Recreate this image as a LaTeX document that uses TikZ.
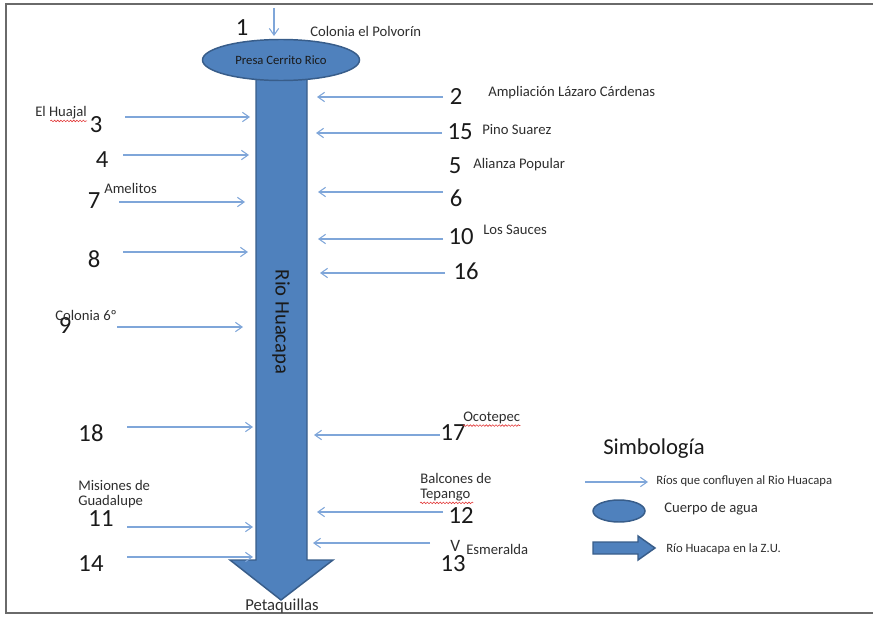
\documentclass[tikz,border=0pt]{standalone}
\usepackage{fontspec}
\setmainfont{Carlito}
\usetikzlibrary{arrows.meta,positioning,shapes.geometric,decorations.pathmorphing}
\definecolor{riverblue}{HTML}{4F81BD}
\definecolor{riveredge}{HTML}{385D8A}
\definecolor{tribblue}{HTML}{7FA6D9}
\definecolor{numink}{HTML}{1A1A1A}
\definecolor{labelink}{HTML}{2E2E2E}
\definecolor{frameink}{HTML}{6A6A6A}
\definecolor{spellred}{HTML}{E23B3B}
\tikzset{
  num/.style={font=\fontsize{18.5}{20}\selectfont,text=numink,inner sep=0pt},
  place/.style={font=\fontsize{11}{13}\selectfont,text=labelink,anchor=west,
                inner sep=0pt,align=left},
  keytext/.style={font=\fontsize{9.5}{11}\selectfont,text=labelink,anchor=west,inner sep=0pt},
  trib/.style={draw=tribblue,line width=0.8pt,-{Straight Barb[length=5pt,width=7pt]}},
  waterbody/.style={ellipse,draw=riveredge,fill=riverblue,line width=1.1pt,inner sep=0pt},
  riverbody/.style={draw=riveredge,fill=riverblue,line width=1.1pt,line join=miter},
  spell/.style={draw=spellred,line width=0.45pt,decorate,
                decoration={snake,amplitude=0.6pt,segment length=2.4pt}}
}

\begin{document}
\begin{tikzpicture}[x=0.75pt,y=-0.75pt]
  \useasboundingbox (0,0) rectangle (873,617);
  % frame
  \draw[frameink,line width=1.2pt] (873,4) -- (6,4) -- (6,613) -- (873,613);

  % main river and dam
  \draw[riverbody] (256,70) -- (307,70) -- (307,560) -- (333,560) -- (281,600)
    -- (230,560) -- (256,560) -- cycle;
  \node[waterbody,minimum width=117.75pt,minimum height=30.75pt] (presa) at (281,60) {};
  \node[font=\fontsize{9.5}{11}\selectfont,text=numink] (presalbl) at (presa.center) {Presa Cerrito Rico};
  \node[font=\fontsize{15.5}{18}\selectfont,text=numink,rotate=-90] (rio) at (281,322) {Rio Huacapa};
  \node[place,anchor=center,font=\fontsize{12.5}{14}\selectfont] (petaq) at (282,606) {Petaquillas};

  % inflow from the north
  \coordinate (src1) at (274,8); \coordinate (dst1) at (274,36);
  \draw[trib] (src1) -- (dst1);
  \node[num] (n1) at (242,28) {1};
  \node[place] (polvorin) at (310,31) {Colonia el Polvorín};

  % west bank
  \coordinate (src3) at (125,117); \coordinate (dst3) at (250,117);
  \draw[trib] (src3) -- (dst3);
  \node[num] (n3) at (96,125) {3};
  \node[place] (huajal) at (35,113) {El Huajal};
  \coordinate (src4) at (123,155); \coordinate (dst4) at (249,155);
  \draw[trib] (src4) -- (dst4);
  \node[num] (n4) at (102,160) {4};
  \coordinate (src7) at (119,202); \coordinate (dst7) at (245,202);
  \draw[trib] (src7) -- (dst7);
  \node[num] (n7) at (94,201) {7};
  \node[place] (amelitos) at (104,188) {Amelitos};
  \coordinate (src8) at (123,252); \coordinate (dst8) at (248,252);
  \draw[trib] (src8) -- (dst8);
  \node[num] (n8) at (94,259) {8};
  \coordinate (src9) at (117,327); \coordinate (dst9) at (243,327);
  \draw[trib] (src9) -- (dst9);
  \node[num] (n9) at (65,325) {9};
  \node[place] (col6) at (55,315) {Colonia 6º};
  \coordinate (src18) at (127,427); \coordinate (dst18) at (253,427);
  \draw[trib] (src18) -- (dst18);
  \node[num] (n18) at (91,433) {18};
  \coordinate (src11) at (127,527); \coordinate (dst11) at (253,527);
  \draw[trib] (src11) -- (dst11);
  \node[num] (n11) at (101,519) {11};
  \node[place,anchor=north west] (misiones) at (78,480) {Misiones de\\[-1.5pt]Guadalupe};
  \coordinate (src14) at (127,557); \coordinate (dst14) at (253,557);
  \draw[trib] (src14) -- (dst14);
  \node[num] (n14) at (91,564) {14};

  % east bank
  \coordinate (src2) at (443,97); \coordinate (dst2) at (317,97);
  \draw[trib] (src2) -- (dst2);
  \node[num] (n2) at (456,96) {2};
  \node[place] (ampliacion) at (488,93) {Ampliación Lázaro Cárdenas};
  \coordinate (src15) at (442,133); \coordinate (dst15) at (316,133);
  \draw[trib] (src15) -- (dst15);
  \node[num] (n15) at (460,132) {15};
  \node[place] (pino) at (482,130) {Pino Suarez};
  \node[num] (n5) at (455,166) {5};
  \node[place] (alianza) at (473,165) {Alianza Popular};
  \coordinate (src6) at (443,192); \coordinate (dst6) at (318,192);
  \draw[trib] (src6) -- (dst6);
  \node[num] (n6) at (456,198) {6};
  \coordinate (src10) at (443,239); \coordinate (dst10) at (318,239);
  \draw[trib] (src10) -- (dst10);
  \node[num] (n10) at (461,237) {10};
  \node[place] (sauces) at (483,230) {Los Sauces};
  \coordinate (src16) at (445,273); \coordinate (dst16) at (320,273);
  \draw[trib] (src16) -- (dst16);
  \node[num] (n16) at (466,271) {16};
  \coordinate (src17) at (440,435); \coordinate (dst17) at (314,435);
  \draw[trib] (src17) -- (dst17);
  \node[num] (n17) at (453,433) {17};
  \node[place] (ocotepec) at (463,418) {Ocotepec};
  \coordinate (src12) at (443,512); \coordinate (dst12) at (317,512);
  \draw[trib] (src12) -- (dst12);
  \node[num] (n12) at (461,515) {12};
  \node[place,anchor=north west] (balcones) at (420,473) {Balcones de\\[-1.5pt]Tepango};
  \coordinate (src13) at (430,543); \coordinate (dst13) at (313,543);
  \draw[trib] (src13) -- (dst13);
  \node[num] (n13) at (453,564) {13};
  \node[place,font=\fontsize{13}{14}\selectfont] (vlet) at (450,546) {V};
  \node[place] (esmeralda) at (466,549) {Esmeralda};

  % spell-check marks
  \draw[spell] ([yshift=-1pt]huajal.south west) ++(11.5pt,0) -- ([yshift=-1pt]huajal.south east);
  \draw[spell] ([yshift=-1pt]ocotepec.south west) -- ([yshift=-1pt]ocotepec.south east);
  \draw[spell] ([yshift=-1pt]balcones.south west) -- ++(40pt,0);

  % legend
  \node[font=\fontsize{17}{20}\selectfont,text=numink] (simbologia) at (654,449) {Simbología};
  \coordinate (keysrc) at (585,482); \coordinate (keydst) at (648,482);
  \draw[trib] (keysrc) -- (keydst);
  \node[keytext] (keytrib) at (656,481) {Ríos que confluyen al Rio Huacapa};
  \node[waterbody,minimum width=39pt,minimum height=16.5pt] (keydam) at (619,511) {};
  \node[place] (keydamtxt) at (664,509) {Cuerpo de agua};
  \draw[riverbody] (593,542) -- (638,542) -- (638,536) -- (655,548) -- (638,560)
    -- (638,554) -- (593,554) -- cycle;
  \node[keytext] (keyriver) at (666,549) {Río Huacapa en la Z.U.};
\end{tikzpicture}
\end{document}
